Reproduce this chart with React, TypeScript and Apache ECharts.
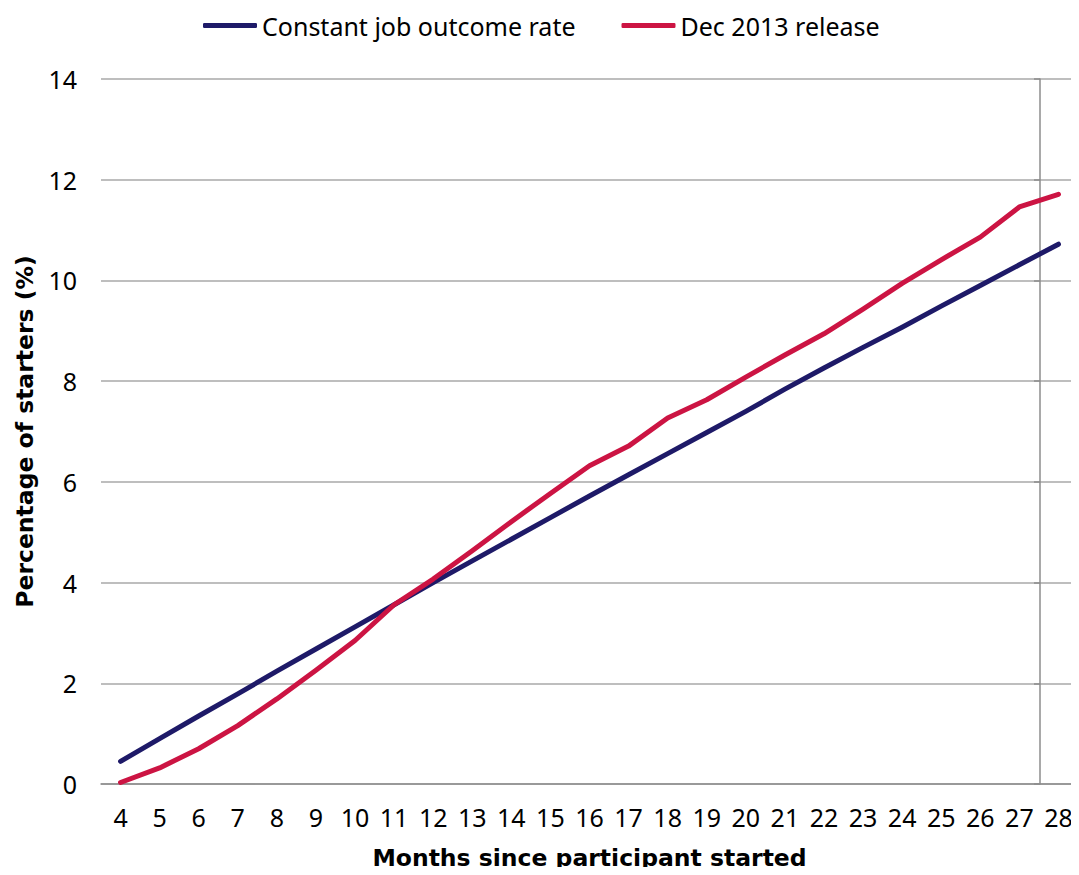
import React, { useEffect, useRef } from "react";
import * as echarts from "echarts";

// Months since the participant started (x categories)
const months = [
  "4", "5", "6", "7", "8", "9", "10", "11", "12", "13", "14", "15", "16",
  "17", "18", "19", "20", "21", "22", "23", "24", "25", "26", "27", "28",
];

// Cumulative job outcomes as a percentage of starters
const constantRate = [
  0.45, 0.9, 1.35, 1.79, 2.24, 2.68, 3.12, 3.56, 4.0, 4.43, 4.86, 5.29, 5.72,
  6.14, 6.56, 6.98, 7.4, 7.84, 8.26, 8.67, 9.07, 9.49, 9.9, 10.31, 10.72,
];
const dec2013Release = [
  0.03, 0.32, 0.7, 1.16, 1.69, 2.26, 2.85, 3.56, 4.07, 4.63, 5.21, 5.77, 6.32,
  6.71, 7.27, 7.63, 8.08, 8.52, 8.94, 9.43, 9.94, 10.41, 10.86, 11.46, 11.71,
];

const seriesNames = ["Constant job outcome rate", "Dec 2013 release"];
const seriesColors = ["#1E1A68", "#CC1443"];

const FONT = "Noto Sans";
const FONT_SIZE = 25;
const TITLE_FONT = "DejaVu Sans";
const TITLE_SIZE = 23.5;

export default function App() {
  const ref = useRef<HTMLDivElement>(null);

  useEffect(() => {
    if (!ref.current) return;
    const chart = echarts.init(ref.current, null, { renderer: "svg" });

    const axisGray = "#8c8c8c";
    const gridGray = "#a9a9a9";

    chart.setOption({
      animation: false,
      textStyle: { fontFamily: FONT },
      legend: {
        top: 8,
        left: 198,
        icon: "roundRect",
        itemWidth: 54,
        itemHeight: 5,
        itemGap: 46,
        textStyle: { fontFamily: FONT, fontSize: FONT_SIZE, color: "#000" },
        data: seriesNames,
      },
      grid: { left: 101, right: 1, top: 79, bottom: 87, containLabel: false },
      xAxis: [
        {
          type: "category",
          data: months,
          boundaryGap: true,
          name: "Months since participant started",
          nameLocation: "middle",
          nameGap: 62,
          nameTextStyle: {
            fontFamily: TITLE_FONT,
            fontSize: TITLE_SIZE,
            fontWeight: "bold",
            color: "#000",
          },
          axisLine: { lineStyle: { color: axisGray, width: 1.5 } },
          axisTick: { length: 8, lineStyle: { color: axisGray, width: 1.5 } },
          axisLabel: {
            margin: 20,
            fontFamily: FONT,
            fontSize: FONT_SIZE,
            color: "#000",
            interval: 0,
          },
          splitLine: { show: false },
        },
      ],
      yAxis: [
        {
          type: "value",
          min: 0,
          max: 14,
          interval: 2,
          name: "Percentage of starters (%)",
          nameLocation: "middle",
          nameGap: 60,
          nameRotate: 90,
          nameTextStyle: {
            fontFamily: TITLE_FONT,
            fontSize: TITLE_SIZE,
            fontWeight: "bold",
            color: "#000",
          },
          axisLine: { show: false },
          axisTick: { show: false },
          axisLabel: {
            margin: 24,
            fontFamily: FONT,
            fontSize: FONT_SIZE,
            color: "#000",
          },
          splitLine: { lineStyle: { color: gridGray, width: 1.5 } },
        },
        {
          // vertical marker between months 27 and 28
          type: "value",
          position: "right",
          offset: -38,
          min: 0,
          max: 14,
          interval: 2,
          axisLine: { show: true, lineStyle: { color: axisGray, width: 1.5 } },
          axisTick: {
            show: true,
            inside: true,
            length: 6,
            lineStyle: { color: axisGray, width: 1.5 },
          },
          axisLabel: { show: false },
          splitLine: { show: false },
        },
      ],
      series: [
        {
          name: seriesNames[0],
          type: "line",
          data: constantRate,
          symbol: "none",
          color: seriesColors[0],
          lineStyle: { width: 5, color: seriesColors[0], cap: "round", join: "round" },
          z: 3,
        },
        {
          name: seriesNames[1],
          type: "line",
          data: dec2013Release,
          symbol: "none",
          color: seriesColors[1],
          lineStyle: { width: 5, color: seriesColors[1], cap: "round", join: "round" },
          z: 4,
        },
      ],
    });

    return () => chart.dispose();
  }, []);

  return <div ref={ref} style={{ width: 1079, height: 875, margin: -8 }} />;
}
